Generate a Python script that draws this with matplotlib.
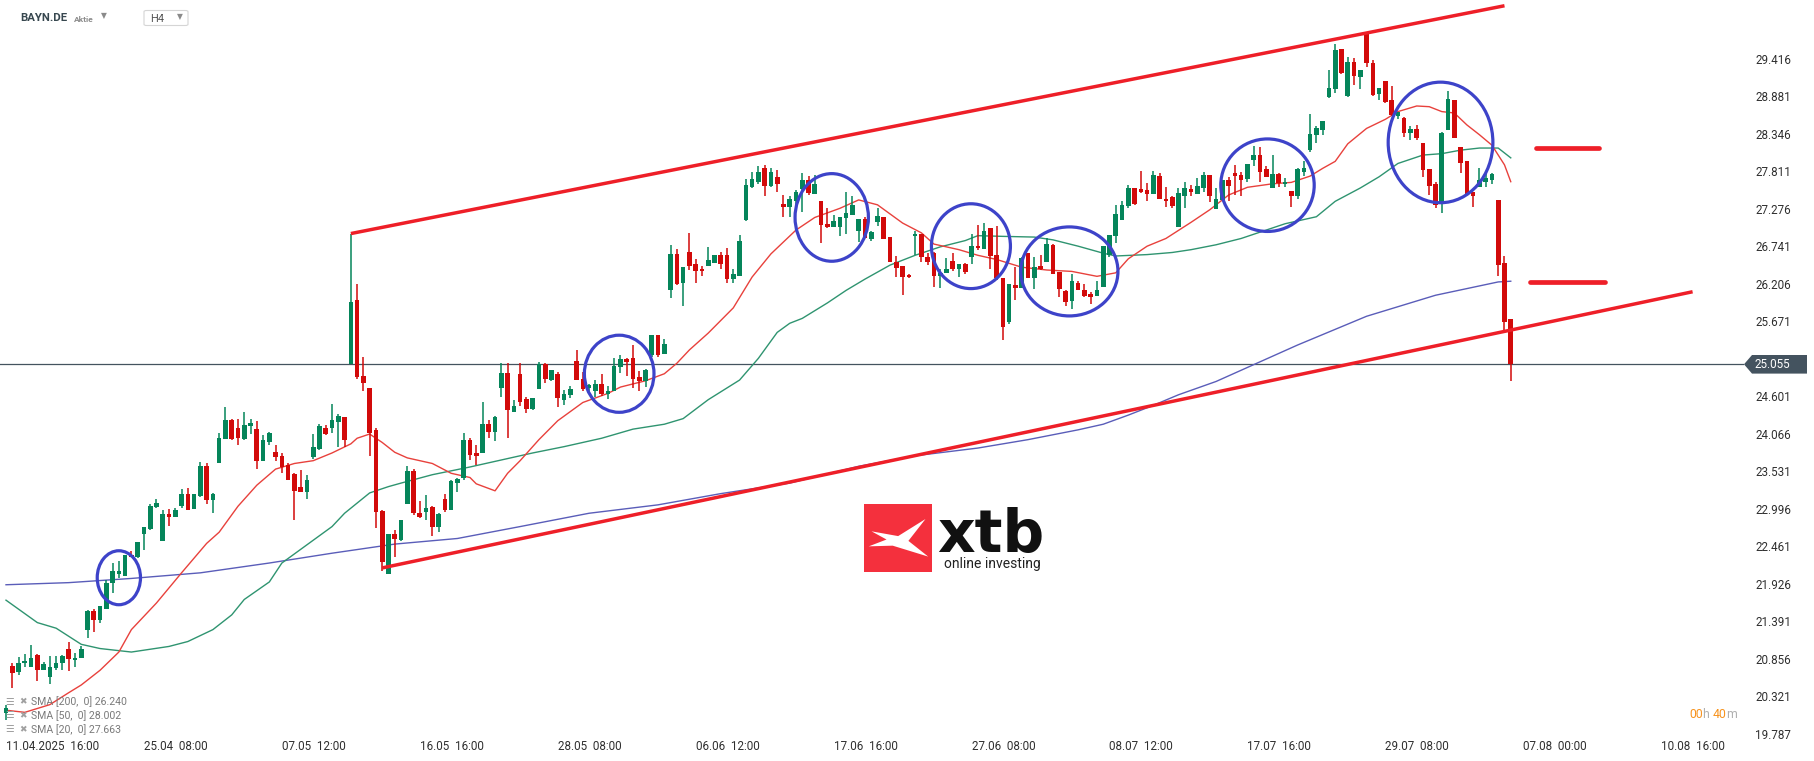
import numpy as np
import matplotlib.pyplot as plt
from matplotlib import font_manager
from matplotlib.patches import Ellipse, Polygon, FancyBboxPatch
from matplotlib.offsetbox import TextArea, HPacker, AnnotationBbox

# DATA: BAYN.DE, H4 candles from 11.04.2025 16:00 (index 0) on

opens = [20.08, 20.75, 20.66, 20.79, 20.74, 20.91, 20.70, 20.59, 20.72, 20.79,
         20.99, 20.84, 20.86, 21.27, 21.54, 21.40, 21.57, 21.93, 22.06, 22.03,
         22.34, 22.30, 22.63, 22.70, 23.02, 22.54, 22.92, 22.88, 23.04, 23.21,
         22.99, 23.17, 23.60, 23.12, 23.65, 23.99, 24.26, 24.14, 23.99, 24.17,
         24.13, 23.67, 23.95, 23.80, 23.75, 23.62, 23.49, 23.30, 23.24, 23.73,
         23.85, 24.15, 24.15, 24.23, 24.30, 25.06, 25.97, 24.89, 24.71, 24.12,
         22.96, 22.07, 22.64, 22.55, 23.06, 23.53, 22.94, 22.95, 23.02, 22.74,
         23.13, 22.97, 23.36, 23.44, 23.98, 23.79, 23.79, 24.21, 24.09, 24.71,
         24.93, 24.38, 24.92, 24.56, 24.42, 24.70, 25.06, 24.83, 24.91, 24.55,
         24.61, 25.10, 24.84, 24.71, 24.68, 24.77, 24.63, 24.68, 25.01, 25.13,
         25.14, 24.87, 24.81, 25.19, 25.47, 25.20, 26.12, 26.63, 26.21, 26.65,
         26.49, 26.42, 26.46, 26.50, 26.61, 26.61, 26.27, 26.32, 27.11, 27.59,
         27.66, 27.85, 27.60, 27.72, 27.34, 27.30, 27.39, 27.55, 27.69, 27.49,
         27.38, 27.06, 27.02, 27.01, 27.14, 27.19, 26.96, 27.13, 26.84, 27.09,
         27.15, 26.87, 26.52, 26.46, 26.33, 26.88, 26.91, 26.59, 26.64, 26.31,
         26.36, 26.53, 26.42, 26.48, 26.59, 26.74, 26.70, 27.00, 26.61, 26.29,
         25.66, 26.19, 26.14, 26.64, 26.28, 26.46, 26.52, 26.76, 26.37, 26.10,
         25.96, 26.22, 26.12, 26.06, 26.03, 26.16, 26.61, 26.89, 27.12, 27.31,
         27.57, 27.55, 27.54, 27.48, 27.74, 27.42, 27.44, 27.02, 27.45, 27.56,
         27.48, 27.57, 27.76, 27.27, 27.40, 27.68, 27.79, 27.76, 27.70, 27.97,
         28.04, 27.84, 27.57, 27.77, 27.62, 27.53, 27.45, 27.80, 28.11, 28.32,
         28.40, 28.87, 28.98, 29.55, 28.88, 29.37, 29.16, 29.78, 29.36, 28.91,
         29.09, 28.83, 28.60, 28.57, 28.36, 28.41, 28.21, 27.84, 27.63, 27.36,
         28.40, 28.83, 28.15, 27.95, 27.52, 27.58, 27.66, 27.69, 27.40, 26.50,
         25.70]

highs = [20.20, 20.79, 20.88, 20.92, 21.05, 20.92, 20.81, 20.89, 20.89, 20.91,
         21.09, 20.93, 21.04, 21.55, 21.57, 21.61, 21.98, 22.22, 22.25, 22.34,
         22.39, 22.52, 22.74, 23.06, 23.13, 22.98, 22.99, 23.01, 23.28, 23.29,
         23.21, 23.66, 23.64, 23.22, 24.07, 24.44, 24.27, 24.27, 24.37, 24.27,
         24.24, 24.05, 24.09, 23.90, 23.79, 23.64, 23.50, 23.55, 23.47, 24.06,
         24.21, 24.19, 24.49, 24.35, 24.31, 26.92, 26.20, 25.16, 24.71, 24.14,
         22.98, 22.64, 22.69, 22.83, 23.60, 23.56, 23.10, 23.19, 23.03, 22.94,
         23.20, 23.40, 23.44, 24.07, 24.01, 23.91, 24.51, 24.26, 24.32, 25.07,
         25.07, 24.55, 25.07, 24.59, 24.58, 25.09, 25.08, 24.98, 24.94, 24.69,
         24.75, 25.26, 24.94, 24.77, 24.83, 24.92, 24.75, 25.14, 25.19, 25.14,
         25.33, 24.96, 24.99, 25.48, 25.48, 25.41, 26.76, 26.70, 26.44, 26.93,
         26.55, 26.46, 26.73, 26.62, 26.65, 26.72, 26.41, 26.90, 27.70, 27.80,
         27.88, 27.90, 27.86, 27.82, 27.47, 27.46, 27.54, 27.79, 27.74, 27.76,
         27.38, 27.28, 27.19, 27.16, 27.52, 27.46, 27.13, 27.15, 26.95, 27.28,
         27.16, 26.87, 26.60, 26.46, 26.34, 26.96, 26.91, 26.64, 26.66, 26.42,
         26.57, 26.64, 26.49, 26.50, 26.92, 27.04, 27.07, 27.00, 27.03, 26.29,
         26.20, 26.45, 26.59, 26.64, 26.58, 26.61, 26.86, 26.77, 26.37, 26.11,
         26.35, 26.24, 26.20, 26.09, 26.24, 26.74, 26.90, 27.33, 27.39, 27.61,
         27.57, 27.81, 27.64, 27.81, 27.78, 27.59, 27.46, 27.57, 27.65, 27.61,
         27.71, 27.80, 27.76, 27.57, 27.69, 27.73, 27.90, 27.80, 27.91, 28.17,
         28.16, 27.89, 28.04, 27.79, 27.71, 27.53, 27.85, 27.95, 28.63, 28.45,
         28.53, 29.25, 29.62, 29.55, 29.44, 29.43, 29.25, 29.80, 29.40, 29.00,
         29.10, 29.03, 28.66, 28.58, 28.45, 28.47, 28.21, 27.84, 27.66, 28.37,
         28.96, 28.83, 28.16, 27.95, 27.52, 27.85, 27.77, 27.78, 27.40, 26.60,
         25.70]

lows = [19.98, 20.43, 20.62, 20.74, 20.74, 20.54, 20.69, 20.49, 20.69, 20.69,
        20.68, 20.73, 20.86, 21.15, 21.23, 21.36, 21.57, 21.79, 22.00, 22.03,
        22.30, 22.29, 22.41, 22.69, 23.01, 22.54, 22.75, 22.87, 23.01, 22.97,
        22.99, 23.16, 23.06, 22.93, 23.65, 23.99, 23.98, 23.91, 23.97, 24.06,
        23.56, 23.67, 23.91, 23.67, 23.50, 23.40, 22.84, 23.24, 23.13, 23.70,
        23.83, 24.04, 24.07, 23.88, 23.88, 25.06, 24.84, 24.67, 23.75, 22.72,
        22.10, 22.06, 22.30, 22.54, 23.06, 22.91, 22.86, 22.84, 22.60, 22.66,
        22.95, 22.97, 23.23, 23.40, 23.69, 23.62, 23.79, 24.00, 23.96, 24.59,
        24.01, 24.38, 24.46, 24.36, 24.41, 24.70, 24.79, 24.81, 24.45, 24.47,
        24.58, 24.83, 24.68, 24.65, 24.59, 24.60, 24.56, 24.68, 24.93, 24.89,
        24.71, 24.68, 24.73, 25.16, 25.16, 25.20, 26.00, 26.19, 25.89, 26.40,
        26.21, 26.31, 26.46, 26.50, 26.42, 26.22, 26.21, 26.32, 27.10, 27.57,
        27.62, 27.45, 27.58, 27.52, 27.16, 27.15, 27.23, 27.23, 27.47, 27.49,
        26.78, 27.00, 27.02, 26.89, 26.91, 27.18, 26.80, 26.85, 26.82, 27.03,
        26.84, 26.52, 26.30, 26.05, 26.28, 26.61, 26.52, 26.47, 26.16, 26.15,
        26.36, 26.39, 26.30, 26.35, 26.49, 26.69, 26.70, 26.42, 26.26, 25.40,
        25.63, 25.97, 26.14, 26.28, 26.13, 26.40, 26.52, 26.34, 26.02, 25.89,
        25.84, 26.11, 26.01, 25.92, 26.03, 26.16, 26.59, 26.79, 27.12, 27.29,
        27.33, 27.50, 27.38, 27.48, 27.41, 27.30, 27.29, 27.02, 27.29, 27.46,
        27.48, 27.52, 27.37, 27.27, 27.40, 27.38, 27.47, 27.46, 27.65, 27.88,
        27.66, 27.72, 27.57, 27.59, 27.59, 27.30, 27.42, 27.74, 28.09, 28.21,
        28.33, 28.86, 28.93, 29.20, 28.87, 29.04, 28.98, 29.30, 28.88, 28.83,
        28.78, 28.60, 28.56, 28.30, 28.25, 28.26, 27.73, 27.47, 27.29, 27.21,
        28.40, 28.29, 27.79, 27.49, 27.30, 27.58, 27.58, 27.63, 26.32, 25.55,
        24.82]

closes = [20.15, 20.65, 20.80, 20.82, 20.86, 20.70, 20.78, 20.73, 20.80, 20.89,
          20.85, 20.87, 21.00, 21.54, 21.40, 21.60, 21.93, 22.10, 22.10, 22.34,
          22.30, 22.52, 22.73, 23.04, 23.07, 22.92, 22.87, 22.98, 23.21, 22.98,
          23.21, 23.60, 23.12, 23.21, 24.00, 24.26, 23.99, 24.00, 24.19, 24.22,
          23.67, 23.98, 24.07, 23.73, 23.59, 23.41, 23.25, 23.24, 23.40, 23.87,
          24.18, 24.06, 24.26, 24.32, 23.97, 25.95, 24.87, 24.79, 24.08, 22.95,
          22.23, 22.64, 22.56, 22.83, 23.53, 22.94, 22.88, 23.00, 22.73, 22.92,
          22.98, 23.39, 23.42, 23.98, 23.76, 23.74, 24.21, 24.09, 24.30, 24.93,
          24.41, 24.46, 24.52, 24.42, 24.57, 25.06, 24.85, 24.97, 24.57, 24.63,
          24.70, 24.83, 24.70, 24.76, 24.77, 24.63, 24.67, 25.03, 25.13, 25.09,
          24.85, 24.81, 24.98, 25.48, 25.19, 25.35, 26.63, 26.20, 26.44, 26.46,
          26.39, 26.38, 26.54, 26.62, 26.49, 26.27, 26.34, 26.81, 27.61, 27.70,
          27.80, 27.60, 27.80, 27.62, 27.30, 27.41, 27.52, 27.69, 27.50, 27.63,
          27.04, 27.02, 27.10, 27.15, 27.21, 27.33, 27.13, 26.85, 26.94, 27.17,
          26.84, 26.52, 26.43, 26.30, 26.30, 26.91, 26.58, 26.51, 26.32, 26.36,
          26.41, 26.41, 26.49, 26.37, 26.74, 26.71, 26.96, 26.60, 26.28, 25.59,
          26.20, 26.14, 26.57, 26.28, 26.44, 26.41, 26.77, 26.34, 26.13, 25.95,
          26.24, 26.12, 26.03, 26.02, 26.11, 26.74, 26.90, 27.20, 27.33, 27.57,
          27.34, 27.52, 27.48, 27.76, 27.41, 27.38, 27.31, 27.50, 27.57, 27.52,
          27.60, 27.76, 27.45, 27.41, 27.69, 27.60, 27.74, 27.68, 27.91, 28.04,
          27.80, 27.73, 27.77, 27.64, 27.65, 27.45, 27.84, 27.86, 28.34, 28.43,
          28.52, 28.99, 29.54, 29.21, 29.37, 29.17, 29.25, 29.35, 28.90, 29.00,
          28.79, 28.61, 28.65, 28.36, 28.41, 28.29, 27.82, 27.60, 27.33, 28.36,
          28.84, 28.29, 27.93, 27.49, 27.45, 27.68, 27.71, 27.77, 26.47, 25.66,
          25.055]

# moving averages (candle index, value)
sma20_idx = [0, 3, 7, 10, 12, 15, 18, 20, 24, 28, 32, 34, 37, 40, 43, 46, 49, 52, 55, 56,
             58, 60, 62, 64, 68, 71, 74, 75, 78, 80, 82, 85, 88, 92, 96, 98, 102, 105, 107, 109,
             112, 116, 119, 122, 124, 126, 129, 133, 136, 139, 143, 146, 148, 152, 155, 158, 162, 166, 170, 174,
             177, 179, 182, 185, 189, 192, 195, 198, 202, 205, 208, 210, 212, 214, 217, 220, 222, 225, 227, 229,
             231, 233, 235, 237, 239, 240]
sma20_val = [20.12, 20.09, 20.20, 20.37, 20.48, 20.69, 20.95, 21.27, 21.65, 22.08, 22.50, 22.66, 23.03, 23.33, 23.56, 23.64, 23.68, 23.79, 23.92, 24.00,
             24.06, 23.94, 23.80, 23.72, 23.64, 23.50, 23.44, 23.35, 23.25, 23.50, 23.68, 23.98, 24.25, 24.51, 24.64, 24.73, 24.82, 24.92, 25.07, 25.26,
             25.50, 25.86, 26.30, 26.63, 26.80, 26.97, 27.15, 27.28, 27.40, 27.33, 27.07, 26.93, 26.77, 26.69, 26.61, 26.55, 26.44, 26.40, 26.38, 26.31,
             26.36, 26.56, 26.74, 26.85, 27.08, 27.26, 27.47, 27.58, 27.63, 27.65, 27.74, 27.85, 27.95, 28.20, 28.42, 28.55, 28.66, 28.74, 28.73, 28.66,
             28.64, 28.47, 28.33, 28.18, 27.90, 27.66]

sma50_idx = [0, 5, 8, 12, 15, 20, 26, 29, 33, 36, 38, 42, 44, 48, 52, 54, 58, 61, 63, 68,
             74, 79, 84, 89, 95, 100, 105, 108, 112, 117, 120, 123, 125, 127, 131, 134, 137, 141, 145, 149,
             153, 155, 159, 164, 167, 171, 175, 177, 182, 186, 189, 193, 197, 201, 204, 207, 209, 212, 216, 219,
             222, 226, 229, 232, 235, 238, 240]
sma50_val = [21.69, 21.37, 21.29, 21.06, 21.00, 20.95, 21.03, 21.10, 21.27, 21.48, 21.70, 21.95, 22.22, 22.48, 22.74, 22.93, 23.22, 23.31, 23.36, 23.48,
             23.59, 23.69, 23.79, 23.88, 24.00, 24.13, 24.20, 24.28, 24.55, 24.83, 25.14, 25.51, 25.64, 25.71, 25.93, 26.11, 26.27, 26.47, 26.61, 26.73,
             26.82, 26.89, 26.88, 26.87, 26.83, 26.74, 26.64, 26.60, 26.62, 26.65, 26.69, 26.76, 26.85, 26.97, 27.06, 27.12, 27.16, 27.38, 27.57, 27.73,
             27.92, 28.04, 28.06, 28.11, 28.14, 28.14, 28.00]

sma200_idx = [0, 10, 20, 31, 42, 52, 62, 72, 82, 93, 104, 114, 125, 136, 145, 155, 163, 171, 175, 179,
              183, 187, 193, 199, 203, 206, 217, 228, 238, 240]
sma200_val = [21.91, 21.94, 22.00, 22.08, 22.22, 22.36, 22.49, 22.57, 22.74, 22.93, 23.05, 23.21, 23.36, 23.60, 23.75, 23.86, 23.98, 24.12, 24.20, 24.33,
              24.47, 24.62, 24.81, 25.05, 25.21, 25.33, 25.74, 26.04, 26.23, 26.24]

sma_periods = [200, 50, 20]
sma_last = [26.240, 28.002, 27.663]

# drawn channel (start/end candle index and price)
upper_channel_idx = [55, 239]
upper_channel_val = [26.92, 30.17]
lower_channel_idx = [60, 269]
lower_channel_val = [22.15, 26.09]

# short target lines on the right (from idx, to idx, level)
levels_from = [244, 243]
levels_to = [254, 255]
levels_val = [28.14, 26.23]

# blue circles: centre index, centre price, width (candles), height (price)
circle_idx = [18.0, 97.8, 131.7, 153.9, 169.6, 201.2, 228.8]
circle_val = [22.01, 24.92, 27.15, 26.74, 26.38, 27.61, 28.22]
circle_w = [6.9, 11.1, 11.7, 12.6, 15.5, 14.9, 16.7]
circle_h = [0.77, 1.10, 1.25, 1.21, 1.27, 1.32, 1.72]

price_ticks = [29.416, 28.881, 28.346, 27.811, 27.276, 26.741, 26.206, 25.671, 25.136,
               24.601, 24.066, 23.531, 22.996, 22.461, 21.926, 21.391, 20.856, 20.321, 19.787]
date_idx = [0, 22, 44, 66, 88, 110, 132, 154, 176, 198, 220, 242, 264]
date_labels = ['11.04.2025  16:00', '25.04  08:00', '07.05  12:00', '16.05  16:00', '28.05  08:00',
               '06.06  12:00', '17.06  16:00', '27.06  08:00', '08.07  12:00', '17.07  16:00',
               '29.07  08:00', '07.08  00:00', '10.08  16:00']

# STYLE

GREEN = '#05855a'
RED = '#d20a0a'
SLATE = '#44535f'
CHANNEL = '#ee1f28'
CIRCLE = '#3d43c9'

installed = {f.name for f in font_manager.fontManager.ttflist}
if 'Liberation Sans Narrow' in installed:
    NARROW, k = 'Liberation Sans Narrow', 1.0
else:
    NARROW, k = 'Roboto', 0.84

W, H = 1815, 761


def fx(px):
    return px / W


def fy(py):
    return 1 - py / H


fig = plt.figure(figsize=(W / 100, H / 100), dpi=100)
ax = fig.add_axes([0, 1 - 737 / H, 1744 / W, 737 / H])
ax.set_xlim(-0.957, 277.2)
ax.set_ylim(19.738, 30.252)
for s in ax.spines.values():
    s.set_visible(False)

# CANDLES

o = np.array(opens)
h = np.array(highs)
l = np.array(lows)
c = np.array(closes)
x = np.arange(len(c))
cols = np.where(c >= o, GREEN, RED)
ax.vlines(x, l, h, colors=cols, lw=1.1, zorder=3)
ax.bar(x, np.maximum(np.abs(c - o), 0.014), bottom=np.minimum(o, c), width=0.74,
       color=cols, linewidth=0, zorder=4)

# SMAs
ax.plot(sma200_idx, sma200_val, color='#5a5db9', lw=1.0, zorder=2)
ax.plot(sma50_idx, sma50_val, color='#2f9470', lw=1.0, zorder=2)
ax.plot(sma20_idx, sma20_val, color='#e8413c', lw=1.0, zorder=2)

# last price line
ax.axhline(c[-1], color=SLATE, lw=0.9, zorder=1)

# channel and levels
ax.plot(upper_channel_idx, upper_channel_val, color=CHANNEL, lw=2.5, zorder=5, solid_capstyle='butt')
ax.plot(lower_channel_idx, lower_channel_val, color=CHANNEL, lw=2.5, zorder=5, solid_capstyle='butt')
for a, b, v in zip(levels_from, levels_to, levels_val):
    ax.plot([a, b], [v, v], color=CHANNEL, lw=3.4, solid_capstyle='round', zorder=5)

for cx, cy, w, hh in zip(circle_idx, circle_val, circle_w, circle_h):
    ax.add_patch(Ellipse((cx, cy), w, hh, fill=False, ec=CIRCLE, lw=2.3, zorder=6))

# AXES LABELS

ax.yaxis.tick_right()
ax.set_yticks(price_ticks)
ax.set_yticklabels([f'{v:.3f}' for v in price_ticks])
ax.tick_params(axis='y', length=0, pad=8, labelsize=10 * k, labelcolor='#2f2f2f')
ax.set_xticks(date_idx)
ax.set_xticklabels(date_labels, ha='left')
ax.tick_params(axis='x', length=0, pad=2.5, labelsize=10 * k, labelcolor='#2f2f2f')
for lab in ax.get_xticklabels() + ax.get_yticklabels():
    lab.set_fontfamily(NARROW)

# last price box (it covers most of the 25.136 label, as on the platform)
box = Polygon([(fx(1744), fy(364.3)), (fx(1752), fy(355)), (fx(1807), fy(355)),
               (fx(1807), fy(373.6)), (fx(1752), fy(373.6))],
              closed=True, transform=fig.transFigure, fc=SLATE, ec='none', zorder=10)
fig.add_artist(box)
fig.text(fx(1755), fy(364.6), f'{c[-1]:.3f}', color='white', fontsize=10 * k,
         fontfamily=NARROW, va='center', ha='left', zorder=11)

# HEADER

fig.text(fx(20), fy(18), 'BAYN.DE', fontfamily=NARROW, fontweight='bold', fontsize=9.8 * k,
         color='#37474f', va='center')
fig.text(fx(74), fy(19), 'Aktie', fontfamily=NARROW, fontweight='bold', fontsize=7.2 * k,
         color='#8a8a8a', va='center')
fig.text(fx(104), fy(16), '\u25bc', fontsize=5.5, color='#8a8a8a', ha='center', va='center')
fig.add_artist(FancyBboxPatch((fx(144), fy(25.5)), 44 / W, 15 / H,
                              boxstyle='round,pad=0,rounding_size=0.0015',
                              transform=fig.transFigure, fc='white', ec='#d5d5d5', lw=0.8))
fig.text(fx(150), fy(19), 'H4', fontfamily=NARROW, fontsize=9.5 * k, color='#555555', va='center')
fig.text(fx(180), fy(16.5), '\u25bc', fontsize=5.5, color='#8a8a8a', ha='center', va='center')

# LEGEND (bottom left)

for i, (p, v) in enumerate(zip(sma_periods, sma_last)):
    yy = 701.7 + i * 13.8
    fig.text(fx(5), fy(yy), '\u2630', fontsize=7, color='#a0a0a0', va='center')
    fig.text(fx(19), fy(yy), '\u2716', fontsize=6.5, color='#a0a0a0', va='center')
    fig.text(fx(31), fy(yy), f'SMA [{p},  0] {v:.3f}', fontsize=7.6, color='#7a7a7a',
             va='center', fontfamily='Roboto')

# countdown
parts = [('00', '#f7931e'), ('h ', '#b0b0b0'), ('40', '#f7931e'), ('m', '#b0b0b0')]
pack = HPacker(children=[TextArea(t, textprops=dict(color=col, fontsize=10.5 * k, fontfamily=NARROW))
                         for t, col in parts], sep=0, pad=0, align='baseline')
ab = AnnotationBbox(pack, (fx(1689), fy(715)), xycoords='figure fraction', box_alignment=(0, 0.5),
                    frameon=False, pad=0, annotation_clip=False)
ax.add_artist(ab)

# XTB LOGO

fig.add_artist(FancyBboxPatch((fx(864), fy(572.3)), 68.3 / W, 68.3 / H, boxstyle='square,pad=0',
                              transform=fig.transFigure, fc='#f4303d', ec='none', zorder=8))
mark = [(0.11, 0.40), (0.50, 0.47), (0.90, 0.22), (0.65, 0.54), (0.94, 0.77),
        (0.42, 0.61), (0.07, 0.62), (0.33, 0.52)]
fig.add_artist(Polygon([(fx(864 + a * 68.3), fy(504 + b * 68.3)) for a, b in mark], closed=True,
                       transform=fig.transFigure, fc='white', ec='none', zorder=9))
fig.text(fx(937), fy(552), 'xtb', fontsize=42, fontweight='bold', color='#111111',
         va='baseline', ha='left', fontfamily='DejaVu Sans', zorder=9)
fig.text(fx(944), fy(568), 'online investing', fontsize=10, color='#222222',
         va='baseline', ha='left', fontfamily='Roboto', zorder=9)

fig.savefig('out.png', dpi=100)
